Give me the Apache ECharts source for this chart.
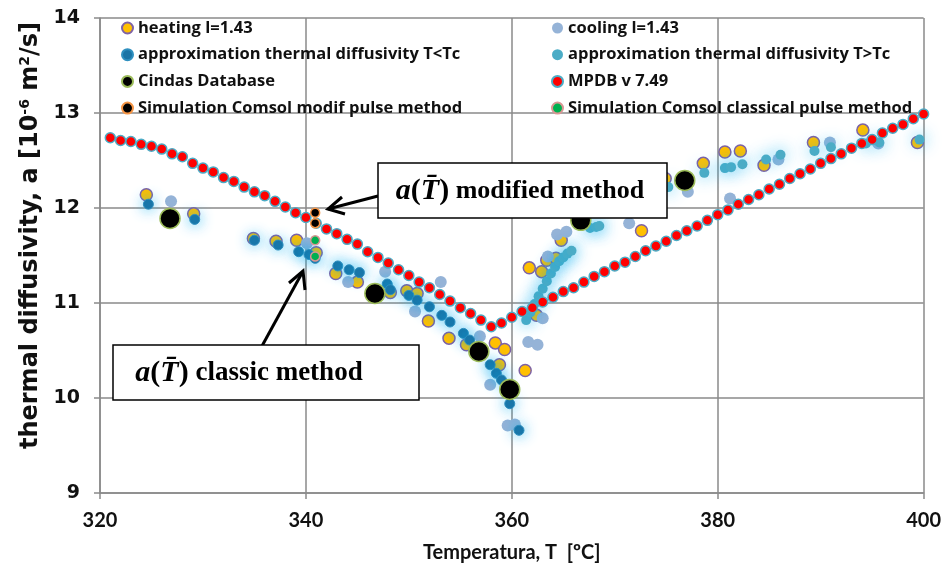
<!DOCTYPE html>
<html>
<head>
<meta charset="utf-8">
<script src="https://cdn.jsdelivr.net/npm/echarts@6/dist/echarts.min.js"></script>
<style>
    html, body { margin: 0; padding: 0; background: #fff; }
    #main { width: 944px; height: 574px; }
</style>
</head>
<body>
<div id="main"></div>
<script>
// measured points [T, a]
var heating = [
    [324.5, 12.14], [329.1, 11.94], [334.9, 11.68], [337.1, 11.65], [339.1, 11.66],
    [341.0, 11.53], [342.9, 11.31], [345.0, 11.22], [348.2, 11.11], [349.8, 11.13],
    [350.8, 11.10], [351.9, 10.81], [353.9, 10.63], [355.6, 10.56], [358.4, 10.58],
    [359.3, 10.51], [358.8, 10.35], [361.3, 10.29], [362.4, 10.87], [361.7, 11.37],
    [362.9, 11.33], [363.4, 11.45], [364.3, 11.47], [364.8, 11.66], [372.6, 11.76],
    [374.9, 12.31], [378.6, 12.47], [380.7, 12.59], [382.2, 12.60], [384.5, 12.45],
    [389.3, 12.69], [394.1, 12.82], [399.4, 12.69]
];
var cooling = [
    [326.9, 12.07], [340.1, 11.63], [344.1, 11.22], [347.7, 11.33], [350.6, 10.91],
    [353.1, 11.22], [356.9, 10.65], [357.9, 10.14], [359.6, 9.71], [360.3, 9.72],
    [361.6, 10.59], [362.5, 10.56], [363.0, 10.84], [363.5, 11.49], [364.4, 11.72],
    [365.3, 11.75], [371.4, 11.84], [377.1, 12.17], [381.2, 12.10], [385.9, 12.51],
    [390.9, 12.69], [395.6, 12.68]
];
var approxBelow = [
    [324.7, 12.04], [329.2, 11.88], [335.0, 11.66], [337.3, 11.61], [339.3, 11.54],
    [340.3, 11.51], [340.9, 11.47], [343.1, 11.39], [344.2, 11.35], [345.2, 11.32],
    [347.9, 11.20], [348.2, 11.14], [350.0, 11.08], [350.8, 11.03], [352.0, 10.96],
    [353.2, 10.87], [354.0, 10.80], [355.3, 10.68], [355.9, 10.61], [357.9, 10.35],
    [358.5, 10.26], [359.0, 10.19], [359.8, 9.94], [360.7, 9.66]
];
var approxAbove = [
    [361.4, 10.82], [361.8, 10.90], [362.2, 10.99], [362.6, 11.07], [363.0, 11.15],
    [363.4, 11.23], [363.8, 11.31], [364.2, 11.38], [364.6, 11.44], [365.0, 11.48],
    [365.4, 11.52], [365.8, 11.55], [367.6, 11.79], [368.2, 11.80], [368.5, 11.81],
    [375.2, 12.22], [378.7, 12.37], [380.7, 12.42], [381.3, 12.43], [382.4, 12.46],
    [384.7, 12.51], [386.1, 12.56], [389.4, 12.60], [391.0, 12.64], [394.4, 12.68],
    [395.7, 12.69], [399.6, 12.72]
];
var cindas = [
    [326.8, 11.89], [346.7, 11.10], [356.8, 10.49], [359.8, 10.09], [366.7, 11.87], [376.8, 12.29]
];
var comsolModif = [[340.9, 11.95], [340.9, 11.84]];
var comsolClassic = [[340.9, 11.66], [340.9, 11.49]];

// MPDB v 7.49, one value per degree from 321 to 400
var mpdbStartT = 321;
var mpdbValues = [
    12.74, 12.71, 12.70, 12.67, 12.65, 12.62, 12.57, 12.54, 12.47, 12.42,
    12.38, 12.32, 12.28, 12.22, 12.17, 12.13, 12.07, 12.01, 11.95, 11.90,
    11.84, 11.78, 11.73, 11.67, 11.62, 11.54, 11.48, 11.42, 11.35, 11.29,
    11.22, 11.16, 11.09, 11.02, 10.95, 10.89, 10.82, 10.75, 10.79, 10.85,
    10.91, 10.95, 11.01, 11.06, 11.12, 11.16, 11.22, 11.28, 11.33, 11.39,
    11.43, 11.49, 11.55, 11.60, 11.65, 11.71, 11.76, 11.81, 11.87, 11.93,
    11.98, 12.04, 12.09, 12.14, 12.20, 12.25, 12.31, 12.36, 12.41, 12.47,
    12.52, 12.57, 12.63, 12.68, 12.72, 12.79, 12.84, 12.88, 12.94, 12.99
];

var xTicks = [320, 400, 20];
var yTicks = [9, 14, 1];

var mpdb = mpdbValues.map(function (v, i) {
    return [mpdbStartT + i, v];
});

var gridColor = '#8a8a8a';
var glow = 'rgba(0, 176, 240, 0.8)';

var legendText = { fontFamily: 'Open Sans', fontWeight: 'bold', fontSize: 16.5, color: '#111', lineHeight: 18 };

var noteRich = {
    it: { fontFamily: 'Liberation Serif', fontStyle: 'italic', fontWeight: 'bold', fontSize: 30, fill: '#000' },
    n: { fontFamily: 'Liberation Serif', fontWeight: 'bold', fontSize: 30, fill: '#000' }
};

var myChart = echarts.init(document.getElementById('main'));
var option = {
    backgroundColor: '#fff',
    animation: false,
    grid: { left: 100, right: 20, top: 18, bottom: 81 },
    legend: [
        {
            left: 116, top: 14, orient: 'vertical',
            itemWidth: 11, itemHeight: 11, itemGap: 8.7,
            data: ['heating l=1.43', 'approximation thermal diffusivity T<Tc',
                'Cindas Database', 'Simulation Comsol modif pulse method'],
            textStyle: legendText
        },
        {
            left: 546, top: 14, orient: 'vertical',
            itemWidth: 11, itemHeight: 11, itemGap: 8.7,
            data: ['cooling l=1.43', 'approximation thermal diffusivity T>Tc',
                'MPDB v 7.49', 'Simulation Comsol classical pulse method'],
            textStyle: legendText
        }
    ],
    xAxis: {
        type: 'value',
        min: xTicks[0], max: xTicks[1], interval: xTicks[2],
        name: 'Temperatura, T  [ºC]',
        nameLocation: 'middle', nameGap: 50,
        nameTextStyle: { fontFamily: 'Lato', fontWeight: 'bold', fontSize: 20, color: '#111' },
        axisLine: { lineStyle: { color: gridColor, width: 1.5 } },
        axisTick: { show: true, length: 6, lineStyle: { color: gridColor, width: 1.5 } },
        axisLabel: { margin: 18, fontFamily: 'Lato', fontWeight: 'bold', fontSize: 20, color: '#111' },
        splitLine: { show: true, lineStyle: { color: gridColor, width: 1.5 } }
    },
    yAxis: {
        type: 'value',
        min: yTicks[0], max: yTicks[1], interval: yTicks[2],
        name: 'thermal diffusivity, a [10{sup|-6} m{sup|2}/s]',
        nameLocation: 'middle', nameGap: 55,
        nameTextStyle: {
            fontFamily: 'DejaVu Sans', fontWeight: 'bold', fontSize: 24, color: '#111',
            padding: [0, 0, 0, 40],
            rich: {
                sup: { fontFamily: 'DejaVu Sans', fontWeight: 'bold', fontSize: 14, color: '#111', verticalAlign: 'top', padding: [0, 0, 10, 0] }
            }
        },
        axisLine: { show: true, lineStyle: { color: gridColor, width: 1.5 } },
        axisTick: { show: true, length: 6, lineStyle: { color: gridColor, width: 1.5 } },
        axisLabel: { margin: 20, fontFamily: 'DejaVu Sans', fontWeight: 'bold', fontSize: 19, color: '#111' },
        splitLine: { show: true, lineStyle: { color: gridColor, width: 1.5 } }
    },
    series: [
        {
            name: 'heating l=1.43', type: 'scatter', symbolSize: 12, data: heating,
            itemStyle: { color: '#FFC000', borderColor: '#7E62A6', borderWidth: 1.5, opacity: 1 }
        },
        {
            name: 'cooling l=1.43', type: 'scatter', symbolSize: 12, data: cooling,
            itemStyle: { color: '#95B3D7', opacity: 1 }
        },
        {
            name: 'approximation thermal diffusivity T<Tc', type: 'scatter', symbolSize: 10, data: approxBelow,
            itemStyle: { color: '#1A74A6', borderColor: '#2E8FBF', borderWidth: 1, shadowBlur: 14, shadowColor: glow, opacity: 1 }
        },
        {
            name: 'approximation thermal diffusivity T>Tc', type: 'scatter', symbolSize: 10, data: approxAbove,
            itemStyle: { color: '#4BACC6', shadowBlur: 16, shadowColor: glow, opacity: 1 }
        },
        {
            name: 'Cindas Database', type: 'scatter', symbolSize: 20, data: cindas,
            itemStyle: { color: '#000', borderColor: '#9BBB59', borderWidth: 1.5, opacity: 1 }
        },
        {
            name: 'MPDB v 7.49', type: 'scatter', symbolSize: 10, data: mpdb,
            itemStyle: { color: '#FF0000', borderColor: '#4BACC6', borderWidth: 1.5, opacity: 1 }
        },
        {
            name: 'Simulation Comsol modif pulse method', type: 'scatter', symbolSize: 9, data: comsolModif,
            itemStyle: { color: '#000', borderColor: '#F79646', borderWidth: 1.5, opacity: 1 }
        },
        {
            name: 'Simulation Comsol classical pulse method', type: 'scatter', symbolSize: 9, data: comsolClassic,
            itemStyle: { color: '#00B050', borderColor: '#D99694', borderWidth: 1.5, opacity: 1 }
        }
    ],
    graphic: [
        // modified method note
        { type: 'line', z: 100, shape: { x1: 378, y1: 196, x2: 328, y2: 209 }, style: { stroke: '#000', lineWidth: 3 } },
        { type: 'polyline', z: 100, shape: { points: [[342, 197], [328, 209], [345, 214]] }, style: { stroke: '#000', lineWidth: 3, fill: null } },
        {
            type: 'rect', z: 100, shape: { x: 378, y: 163, width: 289, height: 55 },
            style: { fill: '#fff', stroke: '#000', lineWidth: 1.5 }
        },
        {
            type: 'text', z: 101, x: 520, y: 191,
            style: {
                text: '{it|a}{n|(}{it|T\u0304}{n|)} modified method',
                align: 'center', verticalAlign: 'middle',
                fontFamily: 'Liberation Serif', fontWeight: 'bold', fontSize: 26, fill: '#000',
                rich: noteRich
            }
        },
        // classic method note
        { type: 'line', z: 100, shape: { x1: 262, y1: 346, x2: 302, y2: 273 }, style: { stroke: '#000', lineWidth: 3 } },
        { type: 'polyline', z: 100, shape: { points: [[289, 283], [303, 271], [305, 290]] }, style: { stroke: '#000', lineWidth: 3, fill: null } },
        {
            type: 'rect', z: 100, shape: { x: 113, y: 345, width: 306, height: 55 },
            style: { fill: '#fff', stroke: '#000', lineWidth: 1.5 }
        },
        {
            type: 'text', z: 101, x: 249, y: 373,
            style: {
                text: '{it|a}{n|(}{it|T\u0304}{n|)} classic method',
                align: 'center', verticalAlign: 'middle',
                fontFamily: 'Liberation Serif', fontWeight: 'bold', fontSize: 27, fill: '#000',
                rich: noteRich
            }
        }
    ]
};
if (option && typeof option === "object") {
    myChart.setOption(option, true);
}
</script>
</body>
</html>
